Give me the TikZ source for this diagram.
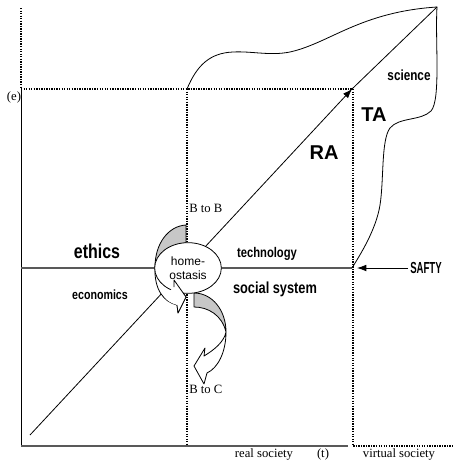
\documentclass[tikz,border=0pt]{standalone}
\usepackage{fontspec}
\setmainfont{Liberation Serif}
\newfontfamily\gth[FakeStretch=0.8]{Liberation Sans}
\newfontfamily\gthn[FakeStretch=0.6]{Liberation Sans}
\newfontfamily\arl{Liberation Sans}
\usetikzlibrary{arrows.meta,shapes.geometric}
\tikzset{
  dotline/.style={line width=1.3pt, dash pattern=on 1pt off 0.9pt, line cap=butt},
  axline/.style={line width=0.9pt, black!65},
  thin line/.style={line width=0.6pt},
  lab/.style={inner sep=0pt, font=\gth\bfseries\fontsize{#1}{#1}\selectfont},
  big/.style={inner sep=0pt, font=\arl\bfseries\fontsize{15}{15}\selectfont},
  tms/.style={inner sep=0pt, font=\fontsize{9.5}{10}\selectfont},
  bendarrow/.style={thin line, fill=white},
  bendback/.style={thin line, fill=black!22},
}
\begin{document}
\begin{tikzpicture}[>={Latex[length=7pt,width=5pt]}, line join=round, x=0.75pt, y=-0.75pt]
	\useasboundingbox (0,0) rectangle (453,464);
	% frame
	\coordinate (top) at (21,8);
	\coordinate (e) at (21,89);
	\coordinate (o) at (21,446);
	\coordinate (t) at (348,446);
	\coordinate (m) at (187,89);
	\coordinate (mb) at (187,446);
	\coordinate (c) at (352,89);
	\coordinate (vb) at (353,446);
	\coordinate (vr) at (453,446);
	\coordinate (hl) at (21,268);
	\coordinate (hr) at (352,268);
	\draw[dotline] (top) -- (e);
	\draw[thin line] (e) -- (o);
	\draw[axline] (o) -- (t);
	\draw[dotline] (e) -- (c);
	\draw[dotline] (m) -- (mb);
	\draw[dotline] (353,89) -- (vb) -- (vr);
	\draw[axline] (hl) -- (hr);
	% diagonal
	\coordinate (d0) at (30,435);
	\coordinate (d2) at (437,7);
	\draw[thin line,->] (d0) -- (c);
	\draw[thin line] (c) -- (d2);
	% science region
	\draw[thin line] (m) .. controls (197,65) and (210,53) .. (233,52)
		.. controls (252,51) and (270,56) .. (290,52)
		.. controls (330,43) and (360,12) .. (d2)
		.. controls (435,40) and (441,100) .. (431,111)
		.. controls (421,121) and (399,117) .. (390,128)
		.. controls (381,140) and (384,180) .. (380,205)
		.. controls (376,230) and (360,255) .. (hr);
	% SAFTY
	\node[inner sep=0pt, font=\gthn\bfseries\fontsize{12}{12}\selectfont] (safty) at (426,268) {SAFTY};
	\draw[thin line,->] (safty.west) ++(-2,0) -- (357,268);
	% B to B
	\draw[bendarrow] (155,267) .. controls (154,290) and (164,302) .. (177,305)
		-- (178,313) -- (186,297) -- (174,280) -- (174,287)
		.. controls (165,284) and (157,278) .. (155,267) -- cycle;
	\draw[bendback] (186,225) .. controls (168,226) and (155,244) .. (155,267)
		.. controls (160,255) and (172,244) .. (186,243) -- cycle;
	% B to C
	\draw[bendarrow] (226,332) .. controls (226,352) and (218,368) .. (207,373)
		-- (204,384) -- (194,366) -- (205,348) -- (204,356)
		.. controls (214,350) and (224,342) .. (226,332) -- cycle;
	\draw[bendback] (194,293) .. controls (212,293) and (226,310) .. (226,332)
		.. controls (222,315) and (208,307) .. (194,307) -- cycle;
	% homeostasis
	\node[draw, thin line, fill=white, ellipse, inner sep=0pt,
		minimum width=50pt, minimum height=38pt, align=center,
		font=\arl\fontsize{9}{10.5}\selectfont] (home) at (188,268) {home-\\ostasis};
	\fill[white] (174,287) -- (174,280) -- (186,297) -- (178,313) -- (177,305)
		.. controls (170,303) and (166,300) .. (164,296) -- cycle;
	\draw[thin line] (174,287) -- (174,280) -- (186,297) -- (178,313) -- (177,305);
	% labels
	\node[lab=15] (ethics) at (97,251) {ethics};
	\node[lab=10] (econ) at (100,295) {economics};
	\node[lab=10.5] (tech) at (267,254) {technology};
	\node[lab=12] (social) at (275,289) {social system};
	\node[lab=11] (science) at (409,75) {science};
	\node[big] (ta) at (374,115) {TA};
	\node[big] (ra) at (324,153) {RA};
	\node[tms, anchor=west] (btob) at (189,208) {B to B};
	\node[tms, anchor=west] (btoc) at (189,389) {B to C};
	\node[tms] (elab) at (14,97) {(e)};
	\node[tms] (real) at (264,454) {real society};
	\node[tms] (tlab) at (323,454) {(t)};
	\node[tms] (virt) at (399,454) {virtual society};
\end{tikzpicture}
\end{document}
